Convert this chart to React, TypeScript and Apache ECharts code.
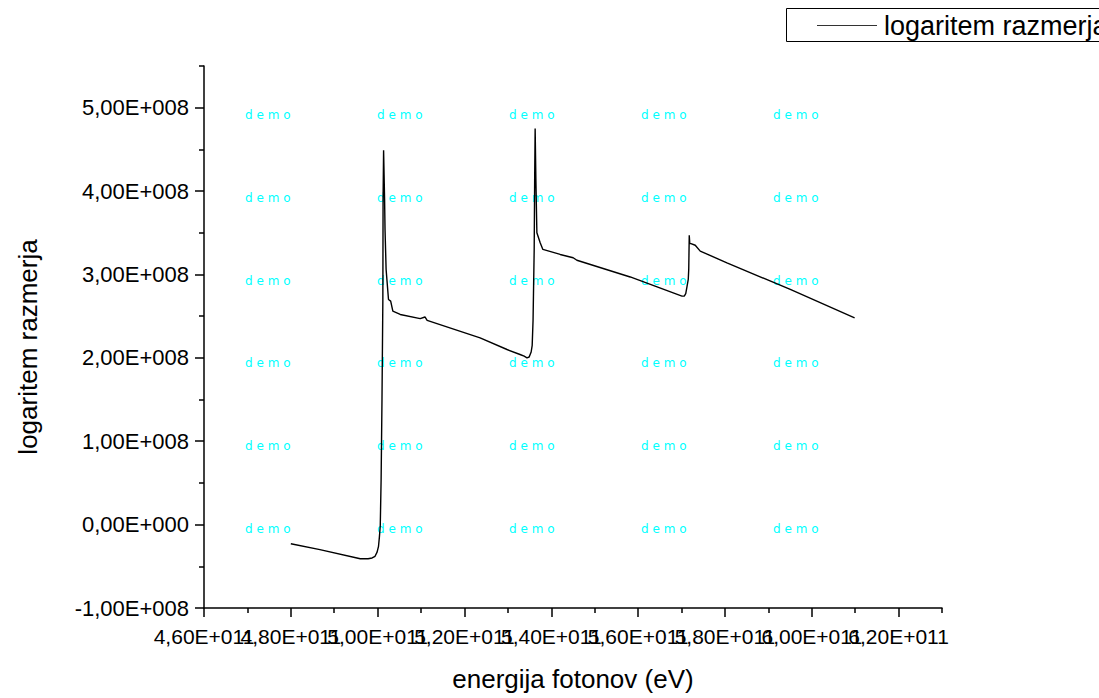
import React, { useEffect, useRef } from "react";
import * as echarts from "echarts";

// Photon energy (eV)
const energy: number[] = [
  4.800e11, 4.867e11, 4.960e11, 4.978e11, 4.9872e11, 4.994e11, 4.9987e11, 5.002e11,
  5.004e11, 5.006e11, 5.008e11, 5.010e11, 5.012e11, 5.0125e11, 5.0137e11, 5.016e11,
  5.017e11, 5.0195e11, 5.025e11, 5.030e11, 5.035e11, 5.052e11, 5.098e11, 5.109e11,
  5.114e11, 5.236e11, 5.298e11, 5.328e11, 5.3375e11, 5.344e11, 5.349e11, 5.3536e11,
  5.356e11, 5.358e11, 5.3606e11, 5.3617e11, 5.3628e11, 5.3645e11, 5.3668e11, 5.3744e11,
  5.3806e11, 5.4205e11, 5.4504e11, 5.459e11, 5.5818e11, 5.701e11, 5.7063e11, 5.7097e11,
  5.7125e11, 5.7155e11, 5.7166e11, 5.7178e11, 5.719e11, 5.7217e11, 5.7316e11, 5.7431e11,
  5.8046e11, 5.9505e11, 6.0987e11,
];

// logaritem razmerja
const ratio: number[] = [
  -0.23e8, -0.30e8, -0.41e8, -0.41e8, -0.40e8, -0.38e8, -0.33e8, -0.26e8,
  -0.15e8, -0.02e8, 0.54e8, 1.5e8, 2.7e8, 3.9e8, 4.49e8, 3.9e8,
  3.54e8, 3.06e8, 2.70e8, 2.68e8, 2.56e8, 2.52e8, 2.47e8, 2.49e8,
  2.45e8, 2.24e8, 2.10e8, 2.04e8, 2.02e8, 2.00e8, 2.01e8, 2.07e8,
  2.15e8, 2.45e8, 3.30e8, 4.14e8, 4.75e8, 4.14e8, 3.50e8, 3.38e8,
  3.30e8, 3.24e8, 3.20e8, 3.17e8, 2.97e8, 2.74e8, 2.74e8, 2.77e8,
  2.85e8, 2.94e8, 3.06e8, 3.47e8, 3.37e8, 3.37e8, 3.35e8, 3.28e8,
  3.14e8, 2.82e8, 2.48e8,
];

const xMajorTicks: number[] = [4.6e11, 4.8e11, 5.0e11, 5.2e11, 5.4e11, 5.6e11, 5.8e11, 6.0e11, 6.2e11];
const xLabelsA: number[] = [4.6e11, 5.0e11, 5.4e11, 5.8e11, 6.2e11];
const xLabelsB: number[] = [4.8e11, 5.2e11, 5.6e11, 6.0e11];
const xMinorTicks: number[] = [4.7e11, 4.9e11, 5.1e11, 5.3e11, 5.5e11, 5.7e11, 5.9e11, 6.1e11, 6.3e11];
const yMajorTicks: number[] = [-1e8, 0, 1e8, 2e8, 3e8, 4e8, 5e8];
const yMinorTicks: number[] = [-0.5e8, 0.5e8, 1.5e8, 2.5e8, 3.5e8, 4.5e8, 5.5e8];

const seriesName = "logaritem razmerja";
const xTitle = "energija fotonov (eV)";
const yTitle = "logaritem razmerja";
const watermark = "d e m o";

function sci(v: number): string {
  if (Math.abs(v) < 1e-9) return "0,00E+000";
  const sign = v < 0 ? "-" : "";
  const a = Math.abs(v);
  let e = Math.floor(Math.log10(a));
  let m = a / Math.pow(10, e);
  if (m >= 9.995) { m /= 10; e += 1; }
  if (m < 1) { m *= 10; e -= 1; }
  return sign + m.toFixed(2).replace(".", ",") + "E" + (e < 0 ? "-" : "+") + String(Math.abs(e)).padStart(3, "0");
}

export default function App() {
  const ref = useRef<HTMLDivElement>(null);
  useEffect(() => {
    if (!ref.current) return;
    const chart = echarts.init(ref.current, undefined, { renderer: "svg" });
    const font = "Liberation Sans";
    const wmX = [245, 377, 509, 641, 773];
    const wmY = [115, 197.5, 280.5, 363, 446, 529];
    const gfx: any[] = [];
    wmY.forEach((y) => wmX.forEach((x) => gfx.push({
      type: "text", x, y, z: 0, silent: true,
      style: { text: watermark, fill: "#00ffff", font: '12px "DejaVu Sans"', textVerticalAlign: "middle" },
    })));
    // legend box (cut off at the right edge as in the reference)
    gfx.push({
      type: "rect", z: 5, silent: true,
      shape: { x: 786.5, y: 8.5, width: 400, height: 33 },
      style: { fill: "#fff", stroke: "#000", lineWidth: 1 },
    });
    gfx.push({
      type: "line", z: 6, silent: true,
      shape: { x1: 817, y1: 25.5, x2: 877, y2: 25.5 },
      style: { stroke: "#333", lineWidth: 1 },
    });
    gfx.push({
      type: "text", z: 6, x: 884, y: 25.5, silent: true,
      style: { text: seriesName, fill: "#000", font: `27px "${font}"`, textVerticalAlign: "middle" },
    });
    // y axis title
    gfx.push({
      type: "text", z: 6, x: 28, y: 347, rotation: Math.PI / 2, silent: true,
      style: { text: yTitle, fill: "#000", font: `26px "${font}"`, textAlign: "center", textVerticalAlign: "middle" },
    });
    const labelAxis = (vals: number[]) => ({
      type: "value", min: 4.6e11, max: 6.3e11, position: "bottom",
      axisLine: { show: false, onZero: false },
      axisTick: { show: false },
      axisLabel: {
        customValues: vals, showMinLabel: true, showMaxLabel: true, hideOverlap: false,
        formatter: (v: number) => sci(v), fontSize: 21, color: "#000", margin: 18, fontFamily: font,
      },
      splitLine: { show: false },
    });
    chart.setOption({
      animation: false,
      backgroundColor: "#ffffff",
      textStyle: { fontFamily: font },
      grid: { left: 204, right: 157, top: 66, bottom: 90, containLabel: false },
      xAxis: [
        {
          type: "value", min: 4.6e11, max: 6.3e11, position: "bottom",
          name: xTitle, nameLocation: "middle", nameGap: 58,
          nameTextStyle: { fontSize: 26, color: "#000", fontFamily: font },
          axisLine: { onZero: false, lineStyle: { color: "#000", width: 1.5 } },
          axisTick: { show: true, length: 9, customValues: xMajorTicks, lineStyle: { color: "#000", width: 1.5 } },
          axisLabel: { show: false },
          splitLine: { show: false },
        },
        {
          type: "value", min: 4.6e11, max: 6.3e11, position: "bottom",
          axisLine: { show: false, onZero: false },
          axisTick: { show: true, length: 5, customValues: xMinorTicks, lineStyle: { color: "#000", width: 1.5 } },
          axisLabel: { show: false },
          splitLine: { show: false },
        },
        labelAxis(xLabelsA),
        labelAxis(xLabelsB),
      ],
      yAxis: [
        {
          type: "value", min: -1e8, max: 5.5e8, position: "left",
          axisLine: { show: true, onZero: false, lineStyle: { color: "#000", width: 1.5 } },
          axisTick: { show: true, length: 9, customValues: yMajorTicks, lineStyle: { color: "#000", width: 1.5 } },
          axisLabel: {
            customValues: yMajorTicks, showMinLabel: true, showMaxLabel: true,
            formatter: (v: number) => sci(v), fontSize: 22, color: "#000", margin: 15, fontFamily: font,
          },
          splitLine: { show: false },
        },
        {
          type: "value", min: -1e8, max: 5.5e8, position: "left",
          axisLine: { show: false, onZero: false },
          axisTick: { show: true, length: 5, customValues: yMinorTicks, lineStyle: { color: "#000", width: 1.5 } },
          axisLabel: { show: false },
          splitLine: { show: false },
        },
      ],
      graphic: gfx,
      series: [
        {
          name: seriesName, type: "line", xAxisIndex: 0, yAxisIndex: 0,
          data: energy.map((x, i) => [x, ratio[i]]),
          showSymbol: false, symbol: "none", smooth: false,
          lineStyle: { color: "#000", width: 1.4 },
          itemStyle: { color: "#000" },
          z: 3,
        },
      ],
    });
    return () => chart.dispose();
  }, []);
  return <div ref={ref} style={{ position: "absolute", left: 0, top: 0, width: 1099, height: 698 }} />;
}
